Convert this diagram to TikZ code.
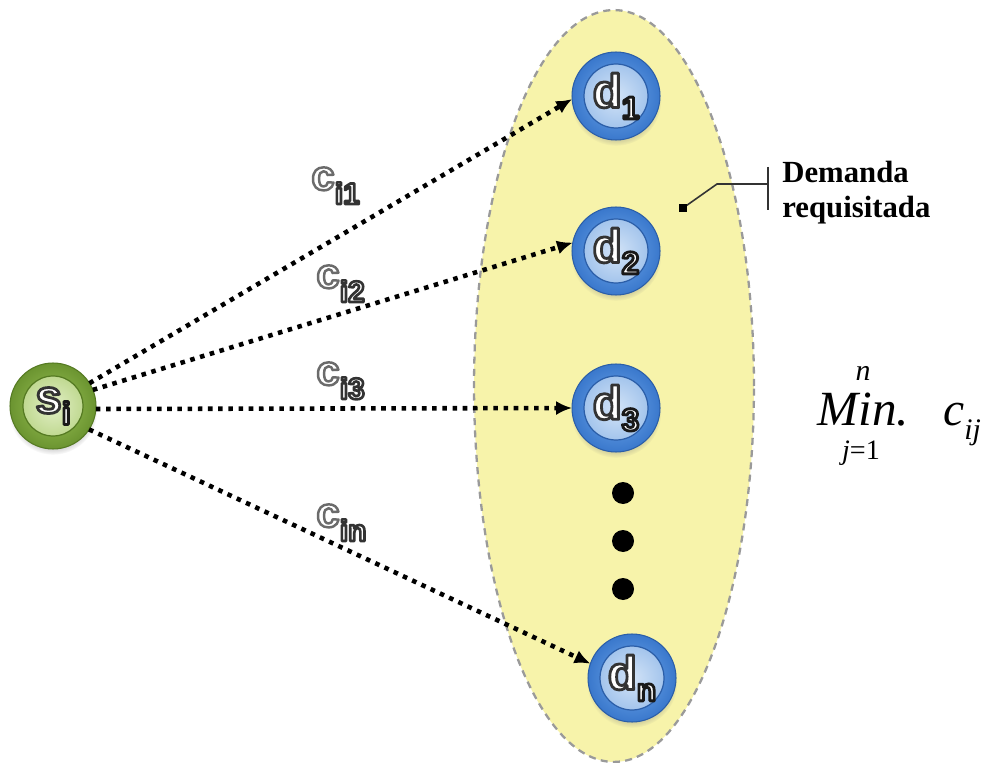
\documentclass[tikz,border=0pt]{standalone}
\usepackage{fontspec}
\setmainfont{Liberation Serif}
\newfontfamily\labelsans{Liberation Sans}
\usetikzlibrary{shapes.geometric,arrows.meta,shadows}

\definecolor{regionfill}{HTML}{F7F3AA}
\definecolor{regionline}{HTML}{9A9A9A}
\definecolor{ringA}{HTML}{72AAEC}
\definecolor{ringB}{HTML}{3A78CC}
\definecolor{ringC}{HTML}{2B5EA8}
\definecolor{coreA}{HTML}{D2E3F7}
\definecolor{coreB}{HTML}{92B9E8}
\definecolor{gringA}{HTML}{9CC458}
\definecolor{gringB}{HTML}{6B9430}
\definecolor{gringC}{HTML}{557A22}
\definecolor{gcoreA}{HTML}{E2EFC6}
\definecolor{gcoreB}{HTML}{B1CF7A}

% glyphs filled with the current colour and stroked with a grey outline
% #1 grey level of the outline, #2 outline width (bp), #3 text
\newcommand\outlined[3]{\special{pdf:literal direct #1 G #2 w 1 j 2 Tr}#3\special{pdf:literal direct 0 Tr}}
% node labels: white letters with a dark outline
\newcommand\dlabel[2]{\labelsans\bfseries\fontsize{27}{27}\selectfont
  \outlined{0.2}{1.6}{#1}\raisebox{-6.5pt}{\fontsize{18}{18}\selectfont\outlined{0.1}{1.6}{#2}}}
% cost labels on the arrows
\newcommand\costlabel[1]{\labelsans\bfseries\fontsize{24}{24}\selectfont
  \outlined{0.42}{1.4}{c}\raisebox{-8pt}{\fontsize{17}{17}\selectfont\outlined{0.2}{1.5}{#1}}}

\begin{document}
\begin{tikzpicture}[x=0.02cm, y=-0.02cm,
  dnode/.style={circle, minimum size=1.76cm, inner sep=0pt, outer sep=0pt,
    shade, inner color=ringA, outer color=ringB, draw=ringC, line width=0.6pt,
    text=white,
    circular drop shadow={shadow xshift=0pt, shadow yshift=-2.5pt, opacity=0.35, shadow scale=1.03},
    path picture={\shadedraw[inner color=coreA, outer color=coreB, draw=ringC, line width=0.7pt]
      (path picture bounding box.center) circle (0.64cm);}},
  snode/.style={circle, minimum size=1.72cm, inner sep=0pt, outer sep=0pt,
    shade, inner color=gringA, outer color=gringB, draw=gringC, line width=0.6pt,
    text=white,
    circular drop shadow={shadow xshift=0pt, shadow yshift=-2.5pt, opacity=0.35, shadow scale=1.03},
    path picture={\shadedraw[inner color=gcoreA, outer color=gcoreB, draw=gringC, line width=0.7pt]
      (path picture bounding box.center) circle (0.6cm);}},
  cost/.style={line width=2.6pt, dash pattern=on 2.6pt off 3.2pt,
    -{Latex[length=9pt,width=8pt]}},
  costtext/.style={anchor=base west, inner sep=0pt, text=white},
  bigdot/.style={circle, fill=black, minimum size=0.44cm, inner sep=0pt},
  callout/.style={line width=0.9pt, draw=black!80},
  captiontext/.style={anchor=base west, inner sep=0pt,
    font=\bfseries\fontsize{17.5}{20}\selectfont},
]
\useasboundingbox (0,0) rectangle (983,763);
\fill[white] (0,0) rectangle (983,763);

% demand region
\node[ellipse, minimum width=5.6cm, minimum height=15.04cm, fill=regionfill,
  draw=regionline, line width=1.3pt, dash pattern=on 4pt off 3pt] (region) at (614,386) {};

% source and demand points
\node[snode] (si) at (53,406) {\dlabel{s}{i}};
\node[dnode] (d1) at (616,96) {\dlabel{d}{1}};
\node[dnode] (d2) at (616,251) {\dlabel{d}{2}};
\node[dnode] (d3) at (616,408) {\dlabel{d}{3}};
\node[dnode] (dn) at (632,678) {\dlabel{d}{n}};

\node[bigdot] (dotA) at (623,493) {};
\node[bigdot] (dotB) at (623,541) {};
\node[bigdot] (dotC) at (623,589) {};

% cost arrows
\draw[cost] (si.32) -- (d1.184);
\draw[cost] (si.22) -- (d2.169);
\draw[cost] (si.-4) -- (d3.180);
\draw[cost] (si.-33) -- (dn.161);

\node[costtext] (c1) at (311,190) {\costlabel{i1}};
\node[costtext] (c2) at (316,288) {\costlabel{i2}};
\node[costtext] (c3) at (316,385) {\costlabel{i3}};
\node[costtext] (cn) at (316,527) {\costlabel{in}};

% callout
\coordinate (cdot) at (683,208);
\coordinate (cbend) at (717,184);
\coordinate (cbar) at (768,184);
\coordinate (bartop) at (768,167);
\coordinate (barbot) at (768,210);
\draw[callout] (cdot) -- (cbend) -- (cbar);
\draw[callout] (bartop) -- (barbot);
\node[fill=black, minimum size=5pt, inner sep=0pt] (cdotmark) at (cdot) {};
\node[captiontext] (dem1) at (782,183) {Demanda};
\node[captiontext] (dem2) at (782,218) {requisitada};

% objective
\node[anchor=base west, inner sep=0pt, font=\itshape\fontsize{28}{28}\selectfont] (minop) at (817,425) {Min.};
\node[anchor=base, inner sep=0pt, font=\itshape\fontsize{17}{17}\selectfont] (upper) at (863,380) {n};
\node[anchor=base, inner sep=0pt, font=\fontsize{16}{16}\selectfont] (lower) at (861,459) {\textit{j}=1};
\node[anchor=base west, inner sep=0pt, font=\itshape\fontsize{27}{27}\selectfont] (cij) at (943,425)
  {c\raisebox{-8.5pt}{\fontsize{17}{17}\selectfont ij}};
\end{tikzpicture}
\end{document}
